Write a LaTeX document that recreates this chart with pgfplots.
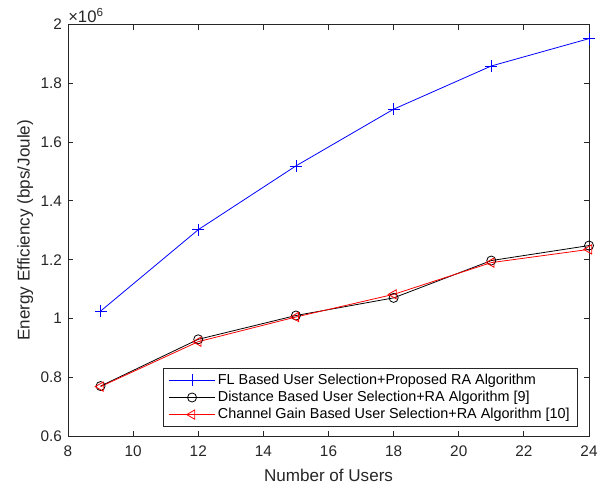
\documentclass[border=0pt]{standalone}
\usepackage{pgfplots}
\pgfplotsset{compat=1.18}
\usepackage{fontspec}
\setmainfont{Liberation Sans}
\definecolor{axgray}{rgb}{0.15,0.15,0.15}
\begin{document}
\begin{tikzpicture}
\useasboundingbox (-51pt,-38.25pt) rectangle (402.75pt,327pt);
\begin{axis}[
  at={(0,0)}, anchor=south west,
  scale only axis,
  width=390.75pt, height=308.6pt,
  xmin=8, xmax=24, ymin=0.6, ymax=2,
  xtick={8,10,...,24},
  ytick={0.6,0.8,1,1.2,1.4,1.6,1.8,2},
  /pgf/number format/assume math mode=true,
  tick label style={font=\fontsize{11.5}{13}\selectfont, color=axgray},
  xticklabel style={yshift=-4pt},
  yticklabel style={xshift=-1pt},
  xlabel style={font=\fontsize{12.8}{14}\selectfont, color=axgray, at={(axis description cs:0.5,0)}, anchor=north, yshift=-21pt},
  ylabel style={font=\fontsize{12.8}{14}\selectfont, color=axgray, at={(axis description cs:0,0.5)}, anchor=center, yshift=32pt},
  xlabel={Number of Users},
  ylabel={Energy Efficiency (bps/Joule)},
  tick align=inside,
  major tick length=4pt,
  axis line style={axgray, line width=0.6pt},
  every tick/.style={axgray, line width=0.6pt},
  xtick pos=both, ytick pos=both,
  legend style={at={(rel axis cs:0.979,0.023)}, anchor=south east, font=\fontsize{10.8}{12}\selectfont, draw=axgray, line width=0.6pt, inner xsep=4pt, inner ysep=2pt, row sep=-0.5pt, cells={anchor=west}},
  legend cell align=left,
  legend image code/.code={\draw[#1, mark repeat=2, mark phase=2] plot coordinates {(0cm,0cm) (0.6cm,0cm) (1.2cm,0cm)};},
  every axis plot/.append style={line width=0.6pt},
  clip=false,
]
\addplot[blue, mark=+, mark size=4.5pt, mark options={line width=0.6pt}] coordinates {
 (9,1.025) (12,1.302) (15,1.519) (18,1.712) (21,1.859) (24,1.952)};
\addlegendentry{FL Based User Selection+Proposed RA Algorithm}
\addplot[black, mark=o, mark size=3.4pt] coordinates {
 (9,0.770) (12,0.929) (15,1.010) (18,1.070) (21,1.197) (24,1.248)};
\addlegendentry{Distance Based User Selection+RA Algorithm [9]}
\addplot[red, mark=triangle, mark size=4pt, mark options={rotate=90}] coordinates {
 (9,0.768) (12,0.921) (15,1.005) (18,1.082) (21,1.190) (24,1.235)};
\addlegendentry{Channel Gain Based User Selection+RA Algorithm [10]}
\node[anchor=south west, inner sep=0pt, yshift=1pt, font=\fontsize{12.5}{14}\selectfont, text=axgray] at (rel axis cs:0,1) {×10\textsuperscript{6}};
\end{axis}
\end{tikzpicture}
\end{document}
